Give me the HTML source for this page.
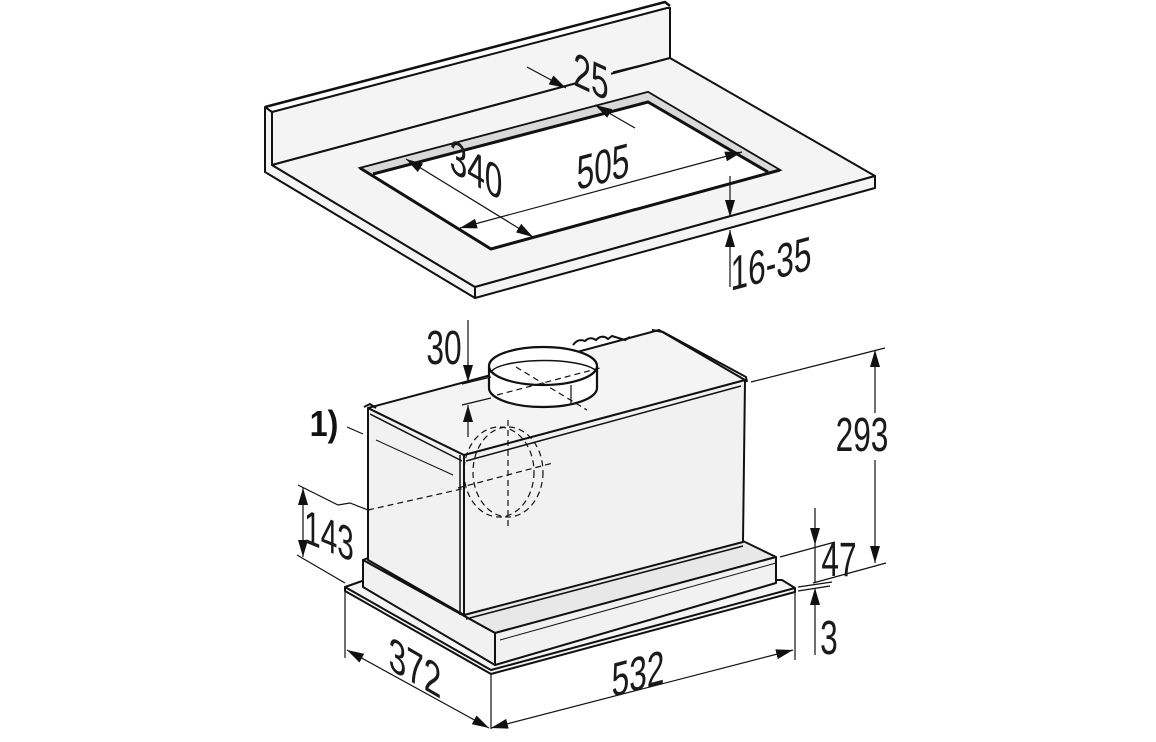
<!DOCTYPE html>
<html><head><meta charset="utf-8"><style>
html,body{margin:0;padding:0;background:#fff;}
svg{display:block;}
.t{font-family:"Liberation Sans",sans-serif;font-size:48px;fill:#1a1a1a;}
</style></head><body>
<svg width="1156" height="742" viewBox="0 0 1156 742" xmlns="http://www.w3.org/2000/svg">
<defs>
<marker id="a" markerUnits="userSpaceOnUse" markerWidth="18" markerHeight="10" refX="17" refY="5" orient="auto">
<path d="M0,0 L17,5 L0,10 Z" fill="#111"/>
</marker>
<marker id="s" markerUnits="userSpaceOnUse" markerWidth="18" markerHeight="10" refX="1" refY="5" orient="auto">
<path d="M18,0 L1,5 L18,10 Z" fill="#111"/>
</marker>
</defs>

<!-- ===== COUNTERTOP ===== -->
<g stroke="#111" stroke-linejoin="round" fill="#f4f4f4">
<path d="M272,112 L667,8 L670,8 L670,58 L272,165 Z" stroke-width="2"/>
<path d="M265,107 L272,112 L272,165 L475,287 L475,298 L265,172 Z" stroke-width="2"/>
<path d="M265,107 L665,2 L670,6" fill="none" stroke-width="2.5"/>
<path d="M272,165 L670,58 L875,176 L475,287 Z" stroke-width="2"/>
<path d="M475,287 L875,176 L875,188 L475,298 Z" stroke-width="2"/>
</g>
<!-- cutout -->
<path d="M360,168 L648,92 L780,170 L491,249 Z" fill="#fff" stroke="#111" stroke-width="2"/>
<path d="M360,168 L648,92 L648,102 L373,174 Z" fill="#d9d9d9" stroke="none"/>
<path d="M648,92 L780,170 L768,172 L648,102 Z" fill="#d9d9d9" stroke="none"/>
<path d="M373,174 L648,102 L768,172" fill="none" stroke="#111" stroke-width="3"/>
<path d="M360,168 L491,249 L780,170" fill="none" stroke="#111" stroke-width="3"/>
<path d="M360,168 L648,92 L780,170" fill="none" stroke="#111" stroke-width="1.5"/>

<!-- gap behind 25 -->
<path d="M575,60 L610,52 L612,92 L577,100 Z" fill="#f4f4f4"/>
<!-- top dims -->
<g stroke="#111" stroke-width="1.2" fill="none">
<path d="M527,67 L566,88" marker-end="url(#a)"/>
<path d="M635,128 L595,105" marker-end="url(#a)"/>
<path d="M613,72 L670,58"/>
<path d="M406,159 L533,237" marker-start="url(#s)" marker-end="url(#a)"/>
<path d="M460,228 L742,152" marker-start="url(#s)" marker-end="url(#a)"/>
<path d="M730,176 L730,217" marker-end="url(#a)"/>
<path d="M730,287 L730,230" marker-end="url(#a)"/>
</g>
<text class="t" text-anchor="middle" transform="translate(591,93) skewY(25) scale(0.66,1)">25</text>
<text class="t" text-anchor="middle" transform="translate(476,186) skewY(30) scale(0.66,1)">340</text>
<text class="t" text-anchor="middle" transform="translate(603,183) skewY(-15) scale(0.66,1)">505</text>
<text class="t" text-anchor="middle" transform="translate(771,280) skewY(-15) scale(0.66,1)">16-35</text>

<!-- ===== HOOD ===== -->
<g stroke="#111" stroke-width="2" stroke-linejoin="round">
<path d="M345,587 L365,580 L782,580 L795,588 L795,592 L491,674 L345,591 Z" fill="#f4f4f4"/>
<path d="M345,587 L491,670 L795,588" fill="none"/>
</g>
<g stroke="#111" stroke-width="2" stroke-linejoin="round" fill="#f1f1f1">
<path d="M363,560 L368,558 L464,613 L743,541 L776,557 L495,633 Z" fill="#e8e8e8"/>
<path d="M363,560 L495,633 L495,665 L363,587 Z"/>
<path d="M495,633 L776,557 L776,583 L495,665 Z"/>
</g>
<path d="M500,640 L776,563" stroke="#111" stroke-width="1" fill="none"/>
<g stroke="#111" stroke-width="2" stroke-linejoin="round">
<path d="M368,408 L464,455 L464,615 L368,560 Z" fill="#f1f1f1"/>
<path d="M464,455 L745,380 L743,542 L464,615 Z" fill="#f1f1f1"/>
<path d="M368,408 L659,330 L745,380 L464,455 Z" fill="#f4f4f4"/>
</g>
<g stroke="#111" fill="none">
<path d="M370,414 L462,461" stroke-width="1.5"/>
<path d="M466,461 L741,386" stroke-width="1.5"/>
<path d="M460,455 L460,615" stroke-width="1.5"/>
<path d="M466,619 L743,546" stroke-width="1.5"/>
<path d="M652,330 L663,332 L746,377 L747,382" stroke-width="2"/>
<path d="M364,407 L370,404 L376,408" stroke-width="2"/>
<path d="M376,440 L453,475" stroke-width="1"/>
<path d="M573,345 Q578,338 585,341 Q590,336 596,340 Q602,334 608,339 L612,336 L625,340 L630,337" stroke-width="2"/>
</g>
<g stroke="#111" stroke-width="2.2">
<path d="M489,366 L489,388 A54,19 0 0 0 597,388 L597,366" fill="#fff"/>
<ellipse cx="543" cy="366" rx="54" ry="19" fill="#fff"/>
<path d="M491,373 A53,13 0 0 1 595,370" fill="none" stroke-width="1.5"/>
<path d="M571,385 L571,404" stroke-width="1.2"/>
</g>
<g stroke="#111" stroke-width="1.2" fill="none" stroke-dasharray="6,4">
<path d="M516,367 L587,410"/>
<path d="M497,395 L600,368"/>
<ellipse cx="499" cy="472" rx="35" ry="45"/>
<ellipse cx="508" cy="472" rx="35" ry="45"/>
<path d="M508,420 L508,526"/>
<path d="M458,488 L553,463"/>
<path d="M368,510 L466,488"/>
</g>
<g stroke="#111" stroke-width="1.2" fill="none">
<path d="M468,320 L468,382" marker-end="url(#a)"/>
<path d="M468,437 L468,405" marker-end="url(#a)"/>
<path d="M462,384 L491,377"/>
<path d="M462,405 L491,398"/>
<path d="M347,427 L363,434"/>
<path d="M298,485 L338,505 L350,503 L368,510"/>
<path d="M297,555 L345,583"/>
<path d="M303,522 L303,488" marker-end="url(#a)"/>
<path d="M303,522 L303,557" marker-end="url(#a)"/>
<path d="M751,382 L885,348"/>
<path d="M875,413 L875,350" marker-end="url(#a)"/>
<path d="M875,460 L875,563" marker-end="url(#a)"/>
<path d="M813,583 L886,563"/>
<path d="M780,557 L835,542"/>
<path d="M798,587 L832,582"/>
<path d="M798,591 L830,586"/>
<path d="M815,508 L815,545" marker-end="url(#a)"/>
<path d="M815,545 L815,583"/>
<path d="M815,655 L815,588" marker-end="url(#a)"/>
<path d="M345,592 L345,658"/>
<path d="M491,675 L491,729"/>
<path d="M795,593 L795,660"/>
<path d="M347,650 L489,728" marker-start="url(#s)" marker-end="url(#a)"/>
<path d="M491,728 L793,650" marker-start="url(#s)" marker-end="url(#a)"/>
</g>
<text class="t" text-anchor="middle" transform="translate(444,364) scale(0.66,1)">30</text>
<text x="324" y="436" font-family="Liberation Sans,sans-serif" font-weight="bold" font-size="36" fill="#111" text-anchor="middle" transform="translate(324,0) scale(0.9,1) translate(-324,0)">1)</text>
<text class="t" text-anchor="middle" transform="translate(329,552) skewY(22) scale(0.62,1)">143</text>
<text class="t" text-anchor="middle" transform="translate(862,451) scale(0.66,1)">293</text>
<text class="t" text-anchor="middle" transform="translate(839,576) scale(0.66,1)">47</text>
<text class="t" text-anchor="middle" transform="translate(829,654) scale(0.66,1)">3</text>
<text class="t" text-anchor="middle" transform="translate(415,684) skewY(30) scale(0.66,1)">372</text>
<text class="t" text-anchor="middle" transform="translate(638,690) skewY(-15) scale(0.66,1)">532</text>
</svg>
</body></html>
